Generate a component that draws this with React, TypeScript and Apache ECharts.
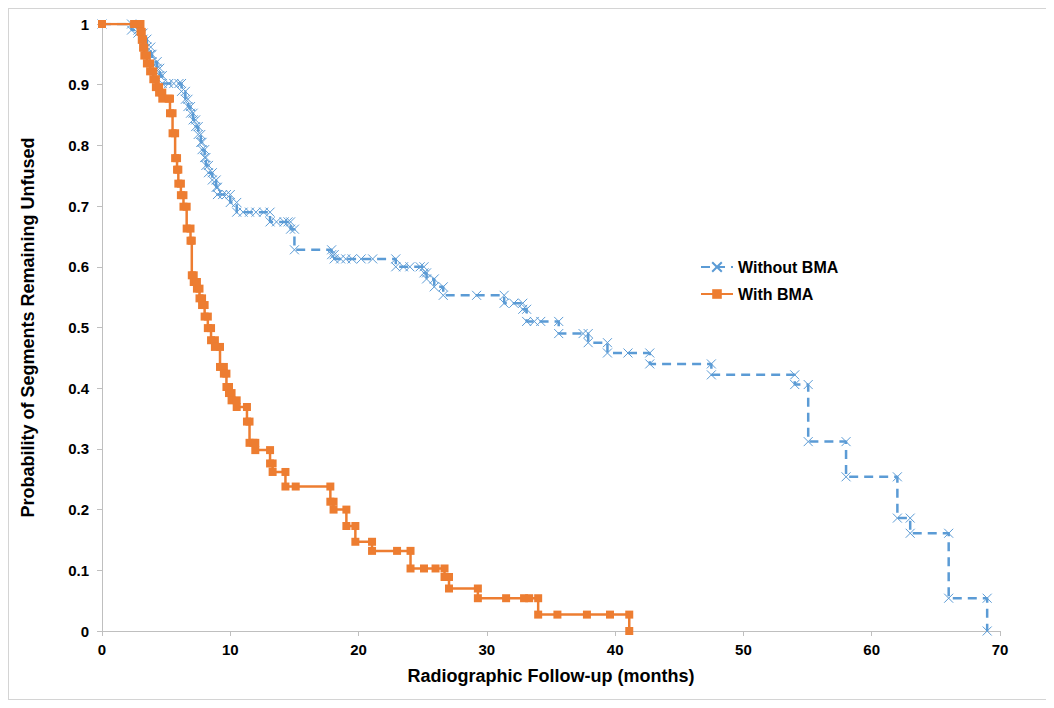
import React, { useEffect, useRef } from "react";
import * as echarts from "echarts";

const seriesNames = ["Without BMA", "With BMA"];

// Kaplan-Meier corner points (months, probability) for "Without BMA"
const withoutX = [
  0, 2.3, 2.3, 2.8, 2.8, 3.2, 3.2, 3.5, 3.5, 3.8, 3.8, 3.9, 3.9, 4.3, 4.3, 4.5, 4.5, 4.7, 4.7,
  5.2, 5.6, 6.0, 6.2, 6.2, 6.5, 6.5, 6.7, 6.7, 6.9, 6.9, 7.1, 7.1, 7.3, 7.3, 7.5, 7.5, 7.7, 7.7,
  7.8, 7.8, 8.0, 8.0, 8.1, 8.1, 8.3, 8.3, 8.6, 8.6, 8.9, 8.9, 9.0, 9.0, 9.4, 9.7, 10.0, 10.0,
  10.5, 10.5, 11.0, 11.5, 12.0, 12.6, 13.1, 13.1, 13.6, 14.2, 14.5, 14.7, 14.7, 15.0, 15.0,
  17.9, 17.9, 18.1, 18.1, 18.6, 19.0, 19.5, 20.2, 21.1, 22.9, 22.9, 23.5, 24.0, 24.8, 25.1, 25.1,
  25.3, 25.3, 25.9, 25.9, 26.6, 26.6, 29.2, 31.35, 31.35, 32.1, 32.8, 32.8, 33.1, 33.1, 33.7,
  34.2, 35.6, 35.6, 37.5, 37.9, 37.9, 39.4, 39.4, 41.0, 42.7, 42.7, 47.5, 47.5, 54.0, 54.0,
  55.05, 55.05, 58.0, 58.0, 62.0, 62.0, 63.0, 63.0, 66.0, 66.0, 69.0, 69.0,
];
const withoutY = [
  1, 1, 0.99, 0.99, 0.985, 0.985, 0.975, 0.975, 0.962, 0.962, 0.95, 0.95, 0.938, 0.938, 0.927,
  0.927, 0.915, 0.915, 0.902, 0.902, 0.902, 0.902, 0.902, 0.889, 0.889, 0.876, 0.876, 0.864,
  0.864, 0.853, 0.853, 0.842, 0.842, 0.831, 0.831, 0.818, 0.818, 0.805, 0.805, 0.793, 0.793,
  0.78, 0.78, 0.767, 0.767, 0.755, 0.755, 0.743, 0.743, 0.731, 0.731, 0.719, 0.719, 0.719,
  0.719, 0.706, 0.706, 0.69, 0.69, 0.69, 0.69, 0.69, 0.69, 0.674, 0.674, 0.674, 0.674, 0.674,
  0.662, 0.662, 0.628, 0.628, 0.62, 0.62, 0.613, 0.613, 0.613, 0.613, 0.613, 0.613, 0.613, 0.6,
  0.6, 0.6, 0.6, 0.6, 0.59, 0.59, 0.58, 0.58, 0.567, 0.567, 0.553, 0.553, 0.553, 0.54, 0.54,
  0.54, 0.53, 0.53, 0.51, 0.51, 0.51, 0.51, 0.49, 0.49, 0.49, 0.475, 0.475, 0.458, 0.458,
  0.458, 0.44, 0.44, 0.422, 0.422, 0.406, 0.406, 0.312, 0.312, 0.254, 0.254, 0.186, 0.186,
  0.161, 0.161, 0.054, 0.054, 0,
];

// Kaplan-Meier corner points (months, probability) for "With BMA"
const withX = [
  0, 2.5, 3.0, 3.0, 3.1, 3.1, 3.2, 3.2, 3.3, 3.3, 3.5, 3.5, 3.75, 3.75, 4.0, 4.0, 4.2, 4.2,
  4.45, 4.45, 4.7, 4.7, 5.2, 5.3, 5.3, 5.5, 5.5, 5.7, 5.7, 5.85, 5.85, 5.95, 5.95, 6.15, 6.15,
  6.35, 6.35, 6.6, 6.6, 6.9, 6.9, 7.0, 7.0, 7.15, 7.15, 7.4, 7.4, 7.6, 7.6, 7.8, 7.8, 8.0, 8.0,
  8.25, 8.25, 8.5, 8.5, 8.8, 8.8, 9.2, 9.2, 9.5, 9.5, 9.7, 9.7, 9.9, 9.9, 10.1, 10.1, 10.5,
  10.5, 11.3, 11.3, 11.5, 11.5, 11.8, 11.95, 11.95, 13.1, 13.1, 13.3, 13.3, 14.3, 14.3, 15.1,
  17.8, 17.8, 18.05, 18.05, 19.05, 19.05, 19.75, 19.75, 21.05, 21.05, 23.0, 24.05, 24.05, 25.1,
  26.0, 26.7, 26.7, 27.05, 27.05, 29.3, 29.3, 31.5, 32.9, 33.3, 34.0, 34.0, 35.5, 37.8, 39.6,
  41.1, 41.1,
];
const withY = [
  1, 1, 1, 0.987, 0.987, 0.974, 0.974, 0.961, 0.961, 0.948, 0.948, 0.935, 0.935, 0.922, 0.922,
  0.909, 0.909, 0.896, 0.896, 0.887, 0.887, 0.877, 0.877, 0.877, 0.853, 0.853, 0.82, 0.82,
  0.779, 0.779, 0.76, 0.76, 0.737, 0.737, 0.718, 0.718, 0.699, 0.699, 0.663, 0.663, 0.643,
  0.643, 0.586, 0.586, 0.575, 0.575, 0.564, 0.564, 0.548, 0.548, 0.537, 0.537, 0.518, 0.518,
  0.499, 0.499, 0.479, 0.479, 0.468, 0.468, 0.435, 0.435, 0.424, 0.424, 0.402, 0.402, 0.392,
  0.392, 0.38, 0.38, 0.369, 0.369, 0.345, 0.345, 0.31, 0.31, 0.31, 0.298, 0.298, 0.276, 0.276,
  0.262, 0.262, 0.238, 0.238, 0.238, 0.213, 0.213, 0.2, 0.2, 0.173, 0.173, 0.147, 0.147, 0.132,
  0.132, 0.132, 0.103, 0.103, 0.103, 0.103, 0.089, 0.089, 0.07, 0.07, 0.054, 0.054, 0.054,
  0.054, 0.054, 0.027, 0.027, 0.027, 0.027, 0.027, 0,
];

const xTitle = "Radiographic Follow-up (months)";
const yTitle = "Probability of Segments Remaining Unfused";

const BLUE = "#5b9bd5";
const ORANGE = "#ed7d31";
const FONT = "Liberation Sans, Arial, sans-serif";

export default function App() {
  const ref = useRef<HTMLDivElement>(null);
  useEffect(() => {
    if (!ref.current) return;
    const chart = echarts.init(ref.current, undefined, { renderer: "svg" });
    const blueData = withoutX.map((x, i) => [x, withoutY[i]]);
    const orangeData = withX.map((x, i) => [x, withY[i]]);
    chart.setOption({
      animation: false,
      backgroundColor: "#ffffff",
      textStyle: { fontFamily: FONT },
      grid: { left: 93, top: 15, right: 49, bottom: 68, containLabel: false },
      legend: {
        orient: "vertical",
        left: 691,
        top: 250,
        padding: 0,
        itemWidth: 32,
        itemHeight: 12,
        itemGap: 11,
        data: seriesNames,
        textStyle: { fontFamily: FONT, fontSize: 16, fontWeight: "bold", color: "#000" },
      },
      xAxis: {
        type: "value",
        min: 0,
        max: 70,
        interval: 10,
        name: xTitle,
        nameLocation: "middle",
        nameGap: 36,
        nameTextStyle: { fontFamily: FONT, fontSize: 18, fontWeight: "bold", color: "#000" },
        axisLine: { show: true, lineStyle: { color: "#bfbfbf", width: 1 } },
        axisTick: { show: true, length: 5, lineStyle: { color: "#bfbfbf" } },
        axisLabel: { fontFamily: FONT, fontSize: 15, fontWeight: "bold", color: "#000", margin: 11 },
        splitLine: { show: false },
      },
      yAxis: {
        type: "value",
        min: 0,
        max: 1,
        interval: 0.1,
        name: yTitle,
        nameLocation: "middle",
        nameGap: 65,
        nameTextStyle: { fontFamily: FONT, fontSize: 18, fontWeight: "bold", color: "#000" },
        axisLine: { show: true, lineStyle: { color: "#bfbfbf", width: 1 } },
        axisTick: { show: true, length: 5, lineStyle: { color: "#bfbfbf" } },
        axisLabel: { fontFamily: FONT, fontSize: 15, fontWeight: "bold", color: "#000", margin: 13 },
        splitLine: { show: false },
      },
      series: [
        {
          name: seriesNames[0],
          type: "line",
          data: blueData,
          symbol: "path://M0,0L10,10M10,0L0,10",
          symbolSize: 9,
          showAllSymbol: true,
          lineStyle: { color: BLUE, width: 2.5, type: [9, 6] },
          itemStyle: { color: BLUE, borderColor: BLUE, borderWidth: 1 },
          emphasis: { disabled: true },
          z: 2,
        },
        {
          name: seriesNames[1],
          type: "line",
          data: orangeData,
          symbol: "rect",
          symbolSize: 8,
          showAllSymbol: true,
          lineStyle: { color: ORANGE, width: 2.5 },
          itemStyle: { color: ORANGE },
          emphasis: { disabled: true },
          z: 3,
        },
      ],
    });
    return () => chart.dispose();
  }, []);
  return (
    <div
      style={{
        width: 1040,
        height: 690,
        border: "1px solid #d4d4d4",
      }}
    >
      <div ref={ref} style={{ width: 1040, height: 690 }} />
    </div>
  );
}
